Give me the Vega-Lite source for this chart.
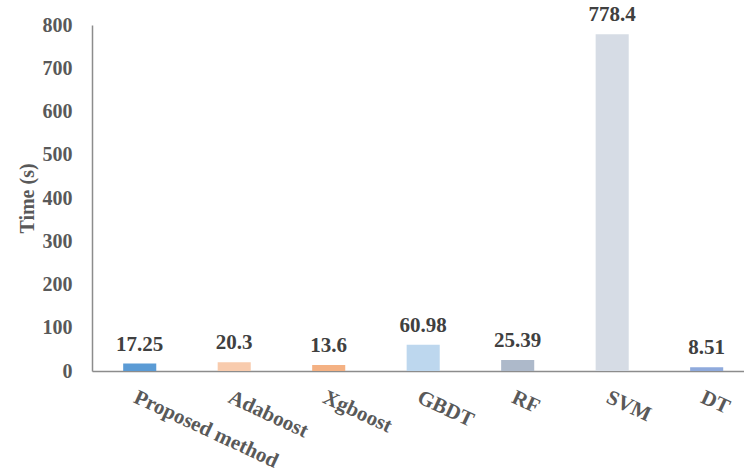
{
  "$schema": "https://vega.github.io/schema/vega-lite/v6.json",
  "autosize": {"type": "none"},
  "padding": {"left": 92, "top": 25, "right": 0, "bottom": 104},
  "width": 652,
  "height": 346,
  "background": "white",
  "config": {
    "view": {"stroke": null},
    "font": "'Liberation Serif', 'Times New Roman', Times, serif"
  },
  "data": {
    "values": [
      {"model": "Proposed method", "time": 17.25, "label": "17.25"},
      {"model": "Adaboost", "time": 20.3, "label": "20.3"},
      {"model": "Xgboost", "time": 13.6, "label": "13.6"},
      {"model": "GBDT", "time": 60.98, "label": "60.98"},
      {"model": "RF", "time": 25.39, "label": "25.39"},
      {"model": "SVM", "time": 778.4, "label": "778.4"},
      {"model": "DT", "time": 8.51, "label": "8.51"}
    ]
  },
  "encoding": {
    "x": {
      "field": "model",
      "type": "nominal",
      "sort": null,
      "scale": {"paddingInner": 0.65, "paddingOuter": 0.275, "align": 0.6},
      "axis": {
        "title": null,
        "labelAngle": 25,
        "labelAlign": "left",
        "labelBaseline": "top",
        "labelFont": "'Liberation Serif', 'Times New Roman', Times, serif",
        "labelFontWeight": "bold",
        "labelFontSize": 21,
        "labelColor": "#595959",
        "labelPadding": 15,
        "ticks": false,
        "tickSize": 0,
        "domainColor": "#8c8c8c",
        "domainWidth": 1.5,
        "labelOverlap": false,
        "labelLimit": 400
      }
    },
    "y": {
      "field": "time",
      "type": "quantitative",
      "scale": {"domain": [0, 800], "nice": false},
      "axis": {
        "title": "Time (s)",
        "titleFont": "'Liberation Serif', 'Times New Roman', Times, serif",
        "titleFontWeight": "bold",
        "titleFontSize": 20,
        "titleColor": "#595959",
        "titlePadding": 5,
        "values": [0, 100, 200, 300, 400, 500, 600, 700, 800],
        "grid": false,
        "ticks": false,
        "tickSize": 0,
        "labelFont": "'Liberation Serif', 'Times New Roman', Times, serif",
        "labelFontWeight": "bold",
        "labelFontSize": 20,
        "labelColor": "#595959",
        "labelPadding": 20,
        "domainColor": "#8c8c8c",
        "domainWidth": 1.5
      }
    }
  },
  "layer": [
    {
      "mark": {"type": "bar", "strokeWidth": 1},
      "encoding": {
        "color": {
          "field": "model",
          "type": "nominal",
          "sort": null,
          "legend": null,
          "scale": {
            "domain": ["Proposed method", "Adaboost", "Xgboost", "GBDT", "RF", "SVM", "DT"],
            "range": ["#5B9BD5", "#F8CBAD", "#F4B183", "#BDD7EE", "#ADB9CA", "#D6DCE5", "#8FAADC"]
          }
        }
      }
    },
    {
      "mark": {
        "type": "text",
        "baseline": "alphabetic",
        "dy": -13,
        "font": "'Liberation Serif', 'Times New Roman', Times, serif",
        "fontWeight": "bold",
        "fontSize": 21,
        "color": "#404040"
      },
      "encoding": {
        "text": {"field": "label", "type": "nominal"}
      }
    }
  ]
}
